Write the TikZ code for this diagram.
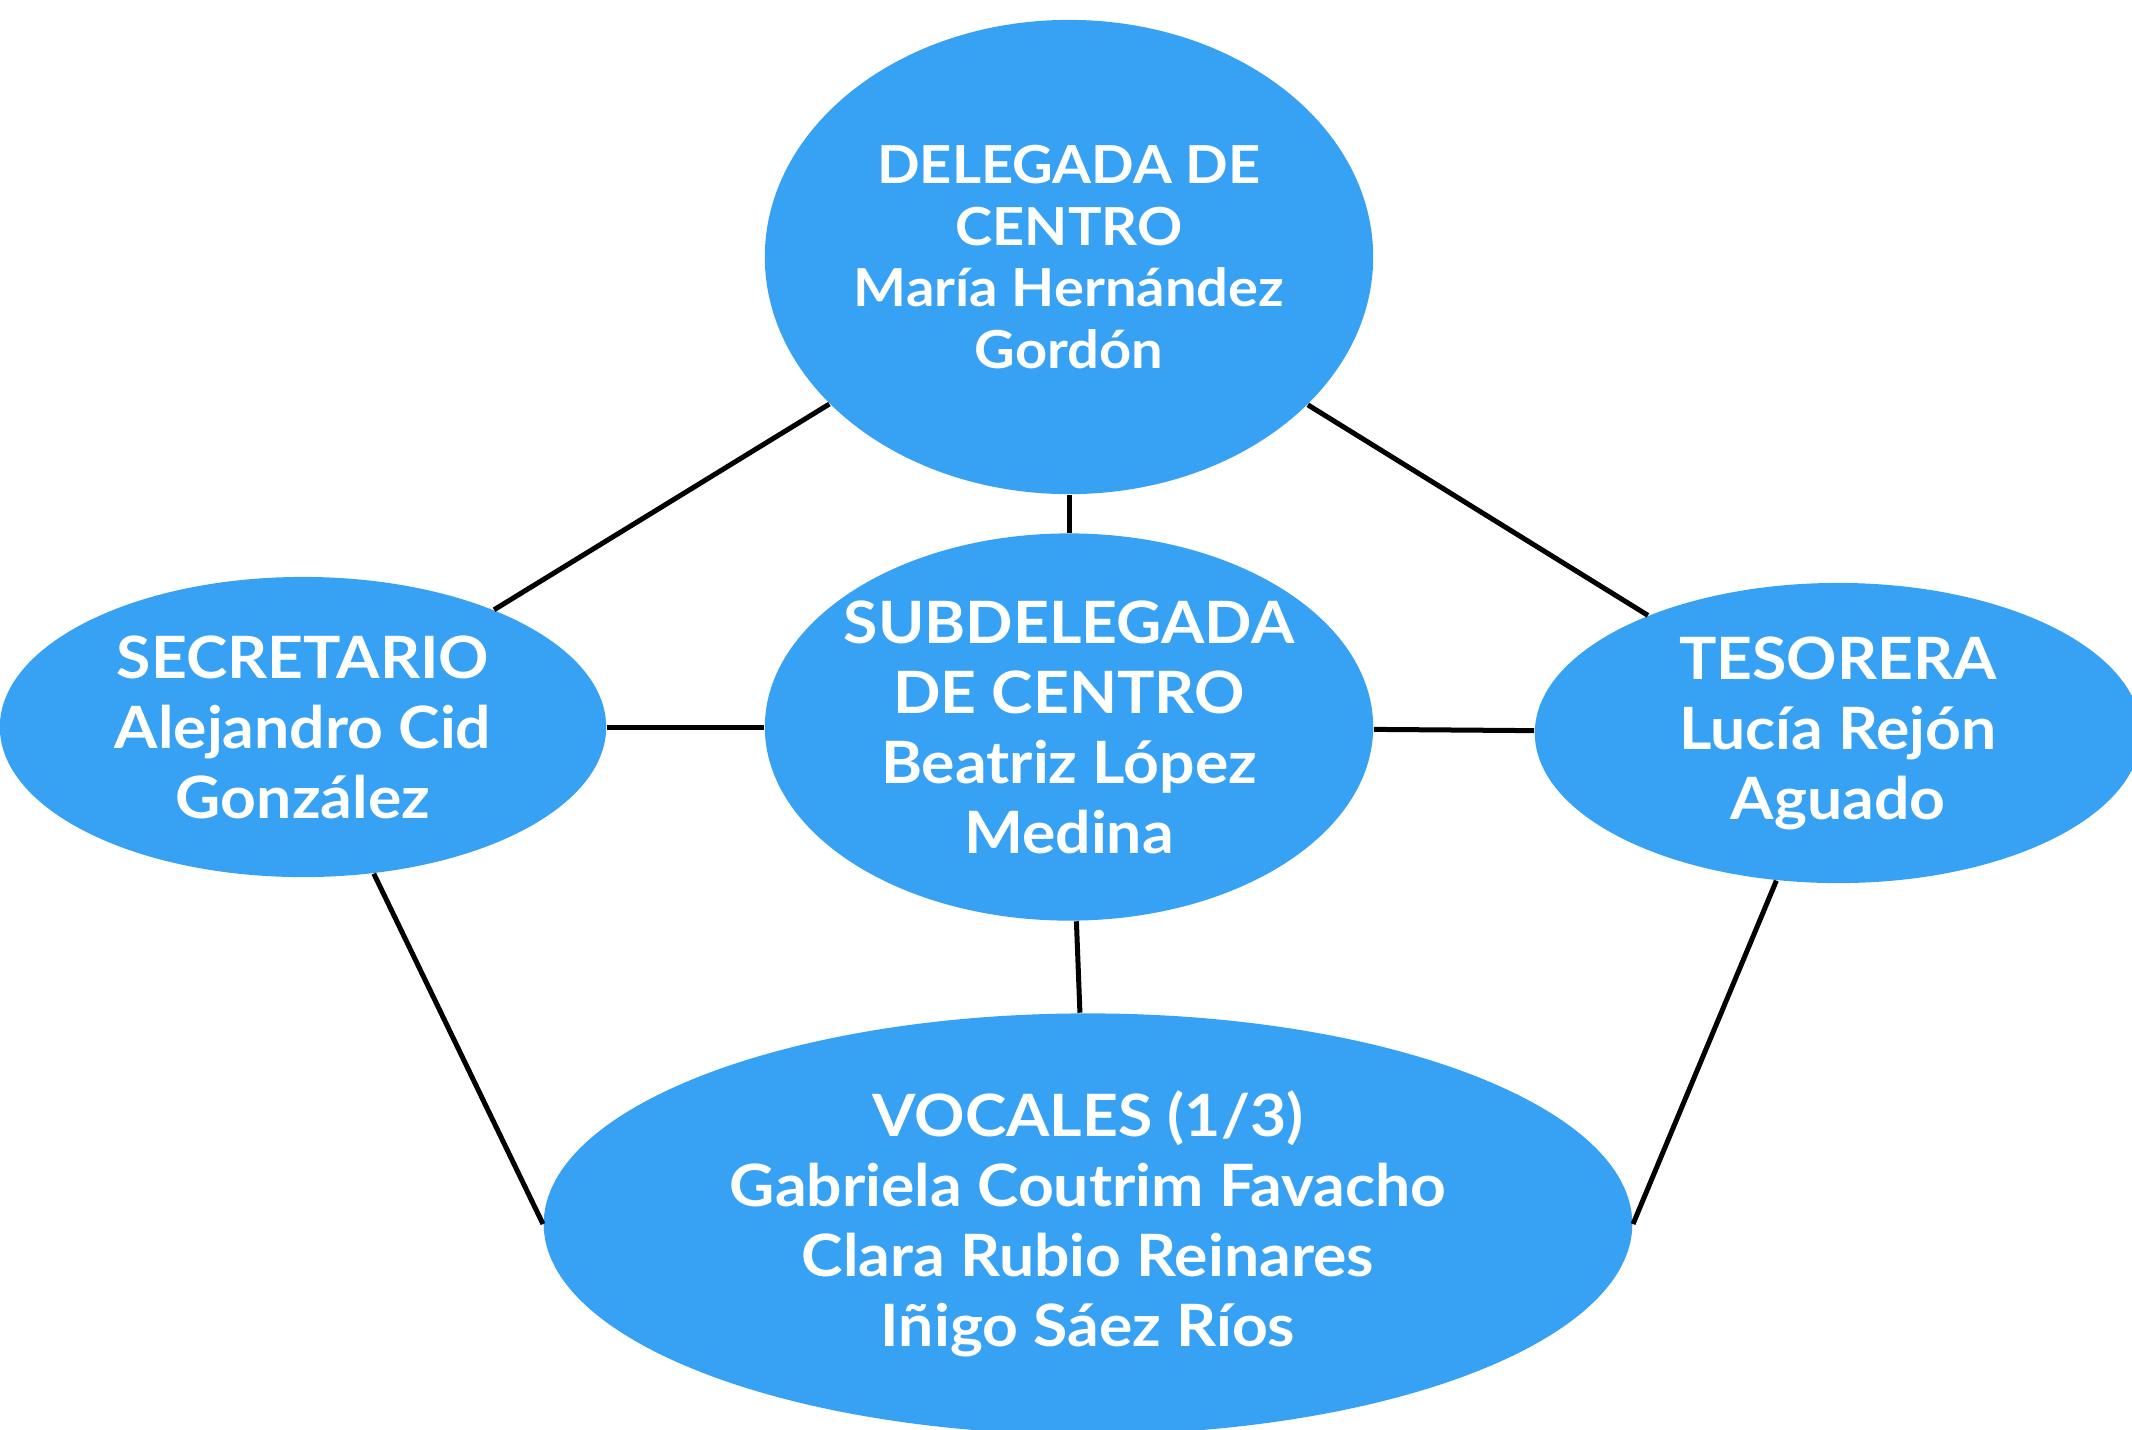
\documentclass[tikz,border=0pt]{standalone}
\usepackage{fontspec}
\setmainfont{Lato}[FakeStretch=1.07]
\usetikzlibrary{shapes.geometric}
\definecolor{blob}{RGB}{55,161,243}
\tikzset{
  blobnode/.style={ellipse, fill=blob, inner sep=0pt},
  blobtext/.style={align=center, text=white, inner sep=0pt,
    font=\fontsize{16.6}{19.9}\selectfont\bfseries},
  link/.style={draw=black, line width=0.05cm}
}
\begin{document}
\begin{tikzpicture}[x=0.01cm, y=-0.01cm]
\useasboundingbox (0,0) rectangle (2132,1429);
\node[blobnode, minimum width=6.08cm, minimum height=4.74cm] (top) at (1069,257) {};
\node[blobnode, minimum width=6.08cm, minimum height=3.87cm] (mid) at (1069,727) {};
\node[blobnode, minimum width=6.06cm, minimum height=3.0cm] (left) at (303,727) {};
\node[blobnode, minimum width=6.06cm, minimum height=3.0cm] (right) at (1838,733) {};
\node[blobnode, minimum width=10.88cm, minimum height=4.21cm] (bot) at (1088,1224) {};
\node[blobtext, font=\fontsize{14.9}{17.6}\selectfont\bfseries] (topt) at (top)
  {DELEGADA DE\\CENTRO\\María Hernández\\Gordón};
\node[blobtext] (midt) at (mid)
  {SUBDELEGADA\\DE CENTRO\\Beatriz López\\Medina};
\node[blobtext] (leftt) at (left)
  {SECRETARIO\\Alejandro Cid\\González};
\node[blobtext] (rightt) at (right)
  {TESORERA\\Lucía Rejón\\Aguado};
\node[blobtext] (bott) at (bot)
  {VOCALES (1/3)\\Gabriela Coutrim Favacho\\Clara Rubio Reinares\\Iñigo Sáez Ríos};
\draw[link] (top) -- (left);
\draw[link] (top) -- (right);
\draw[link] (top) -- (mid);
\draw[link] (left) -- (mid);
\draw[link] (mid) -- (right);
\draw[link] (mid) -- (bot);
\draw[link] (left) -- (bot.west);
\draw[link] (right) -- (bot.east);
\end{tikzpicture}
\end{document}
